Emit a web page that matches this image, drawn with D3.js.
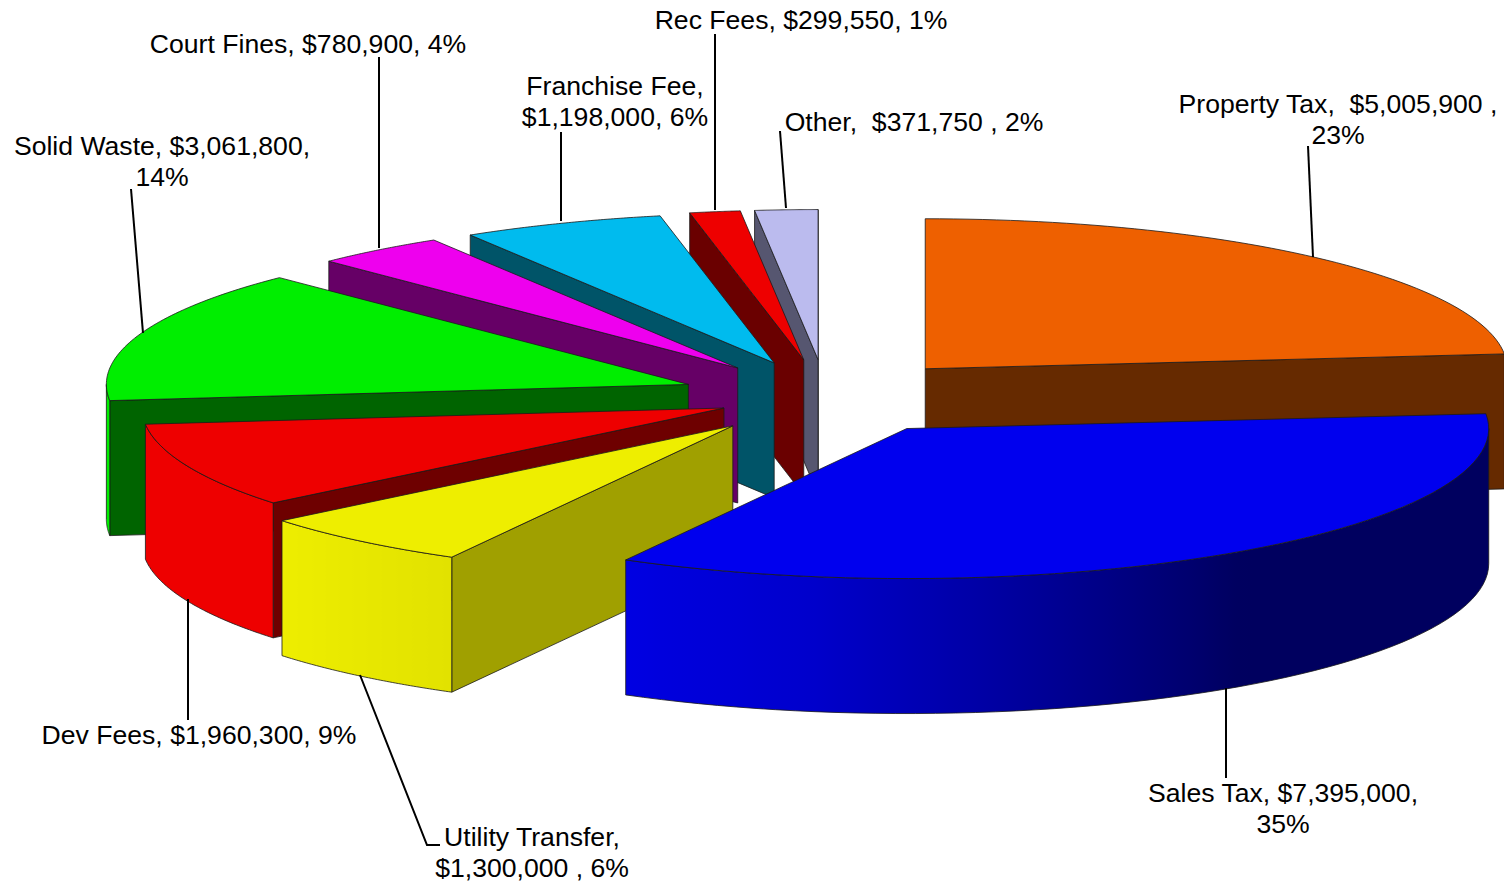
<!DOCTYPE html>
<html>
<head>
<meta charset="utf-8">
<script src="https://cdn.jsdelivr.net/npm/d3@7"></script>
<style>
    html, body { margin: 0; padding: 0; background: #fff; overflow: hidden; }
    text { font-family: "Liberation Sans", Arial, sans-serif; font-size: 26.6px; fill: #000; white-space: pre; }
</style>
</head>
<body>
<div class="canvas"></div>
<script>
// chart data, in pie order (clockwise from 12 o'clock)
const categories = ['Property Tax', 'Sales Tax', 'Utility Transfer', 'Dev Fees', 'Solid Waste', 'Court Fines', 'Franchise Fee', 'Rec Fees', 'Other'];
const amounts = [5005900, 7395000, 1300000, 1960300, 3061800, 780900, 1198000, 299550, 371750];

// how far each slice is pulled out, % of the radius
const explosion = [25.4, 25.2, 25.0, 19.0, 25.1, 24.6, 24.4, 25.0, 25.0];

const topColors = ['#ee6000', '#0000ee', '#eeee00', '#ee0000', '#00ee00', '#ee00ee', '#00bbee', '#ee0000', '#bbbbee'];
const wallColors = ['#662a00', '#000066', '#a0a000', '#6e0000', '#006400', '#660066', '#005468', '#6a0000', '#565670'];

// rim lighting: angle round the pie (deg) -> brightness
const rimAngles = [90, 145, 171, 190, 209, 231, 270];
const rimLight = [0.4, 0.4, 0.68, 0.86, 0.95, 1, 1];

// label text, one entry per category, lines top to bottom
const labelLines = [
    ['Property Tax,  $5,005,900 ,', '23%'],
    ['Sales Tax, $7,395,000,', '35%'],
    ['Utility Transfer,', '$1,300,000 , 6%'],
    ['Dev Fees, $1,960,300, 9%'],
    ['Solid Waste, $3,061,800,', '14%'],
    ['Court Fines, $780,900, 4%'],
    ['Franchise Fee,', '$1,198,000, 6%'],
    ['Rec Fees, $299,550, 1%'],
    ['Other,  $371,750 , 2%']
];
// centre x and first baseline of each label
const labelPos = [[1338, 113], [1283, 802], [532, 846], [199, 744], [162, 155], [308, 53], [615, 95], [801, 29], [914, 131]];
// leader lines, label end first
const leaders = [
    [[1308, 146], [1313, 257]],
    [[1226, 778], [1226, 688]],
    [[440, 845], [427, 845], [360, 675]],
    [[188, 720], [188, 599]],
    [[131, 189], [143, 333]],
    [[379, 57], [379, 248]],
    [[561, 132], [561, 221]],
    [[715, 34], [715, 210]],
    [[780, 131], [786, 208]]
];

const width = 1504;
const height = 882;
const cx = 826, cy = 397;   // pie centre before explosion
const rx = 582, ry = 150;   // top ellipse
const depth = 135;          // thickness of the pie

const svg = d3.select('.canvas')
    .append('svg')
    .attr('width', width)
    .attr('height', height);

const defs = svg.append('defs');

const pie = d3.pie().sort(null).value(d => d);
const arcs = pie(amounts);

const light = d3.scaleLinear().domain(rimAngles).range(rimLight).clamp(true);
const line = d3.line();
const deg = a => a * 180 / Math.PI;

// point on the ellipse of a slice with apex (ax, ay)
const rimPoint = (ax, ay, a, dy = 0) => [ax + rx * Math.sin(a), ay - ry * Math.cos(a) + dy];
const sampleArc = (a0, a1) => d3.range(0, 61).map(i => a0 + (a1 - a0) * i / 60);

// back to front: Property first, then anticlockwise from Other, Sales last
const drawOrder = [0, 8, 7, 6, 5, 4, 3, 2, 1];

drawOrder.forEach(i => {
    const d = arcs[i];
    const a0 = d.startAngle, a1 = d.endAngle;
    const mid = (a0 + a1) / 2;
    const t = explosion[i] / 100;
    const ax = cx + t * rx * Math.sin(mid);
    const ay = cy - t * ry * Math.cos(mid);
    const g = svg.append('g').attr('class', 'slice');

    const wall = a => {
        const p = rimPoint(ax, ay, a);
        return line([[ax, ay], p, [p[0], p[1] + depth], [ax, ay + depth]]) + 'Z';
    };
    const drawWall = a => g.append('path')
        .attr('d', wall(a))
        .attr('fill', wallColors[i])
        .attr('stroke', '#1a1a1a')
        .attr('stroke-width', 0.8);

    // only walls turned toward the viewer
    if (Math.sin(a1) > 0) drawWall(a1);
    if (Math.sin(a0) < 0) drawWall(a0);

    // outer rim, front half of the ellipse only
    const r0 = Math.max(a0, Math.PI / 2);
    const r1 = Math.min(a1, Math.PI * 1.5);
    if (r1 > r0) {
        const angles = sampleArc(r0, r1);
        const upper = angles.map(a => rimPoint(ax, ay, a));
        const lower = angles.map(a => rimPoint(ax, ay, a, depth)).reverse();

        const x0 = upper[upper.length - 1][0], x1 = upper[0][0];
        const grad = defs.append('linearGradient')
            .attr('id', `rim${i}`)
            .attr('gradientUnits', 'userSpaceOnUse')
            .attr('x1', x0).attr('x2', x1).attr('y1', 0).attr('y2', 0);
        const base = d3.rgb(topColors[i]);
        angles.slice().reverse().forEach(a => {
            const k = light(deg(a));
            grad.append('stop')
                .attr('offset', x1 > x0 ? (rimPoint(ax, ay, a)[0] - x0) / (x1 - x0) : 0)
                .attr('stop-color', d3.rgb(base.r * k, base.g * k, base.b * k).formatHex());
        });

        g.append('path')
            .attr('d', line(upper.concat(lower)) + 'Z')
            .attr('fill', `url(#rim${i})`)
            .attr('stroke', '#1a1a1a')
            .attr('stroke-width', 0.8);
    }

    // top face
    const top = [[ax, ay]].concat(sampleArc(a0, a1).map(a => rimPoint(ax, ay, a)));
    g.append('path')
        .attr('d', line(top) + 'Z')
        .attr('fill', topColors[i])
        .attr('stroke', '#1a1a1a')
        .attr('stroke-width', 0.8);
});

// leader lines
svg.append('g').selectAll('path')
    .data(leaders)
    .join('path')
    .attr('d', d => line(d))
    .attr('fill', 'none')
    .attr('stroke', '#000')
    .attr('stroke-width', 2);

// labels
const labels = svg.append('g').selectAll('text')
    .data(labelLines)
    .join('text')
    .attr('text-anchor', 'middle')
    .attr('transform', (d, i) => `translate(${labelPos[i][0]}, ${labelPos[i][1]})`);

labels.selectAll('tspan')
    .data(d => d)
    .join('tspan')
    .attr('x', 0)
    .attr('y', (d, i) => i * 31)
    .text(d => d);
</script>
</body>
</html>
